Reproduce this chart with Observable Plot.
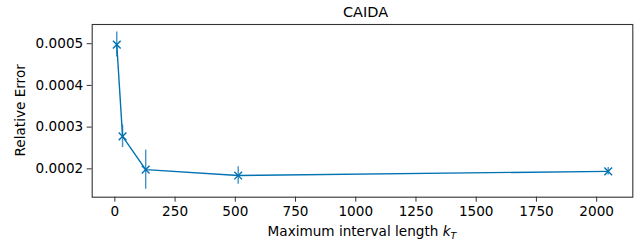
<!DOCTYPE html>
<html>
<head>
<meta charset="utf-8">
<script src="https://cdn.jsdelivr.net/npm/d3@7"></script>
<script src="https://cdn.jsdelivr.net/npm/@observablehq/plot@0.6"></script>
<style>
  html, body { margin: 0; padding: 0; background: #fff; }
  #chart svg { display: block; }
</style>
</head>
<body>
<div id="chart"></div>
<script>
const intervalLengths = [8, 32, 128, 512, 2048];
const relativeError = [0.000498, 0.000278, 0.000198, 0.000184, 0.000194];
const errorSpread = [0.000030, 0.000027, 0.000047, 0.000021, 0.000009];
const xTicks = [0, 250, 500, 750, 1000, 1250, 1500, 1750, 2000];
const yTicks = [0.0002, 0.0003, 0.0004, 0.0005];
const title = "CAIDA";

const data = intervalLengths.map((k, i) => ({
  k, err: relativeError[i], lo: relativeError[i] - errorSpread[i], hi: relativeError[i] + errorSpread[i]
}));

const W = 640, H = 246;
const mL = 91.7, mR = 7.7, mT = 24, mB = 49.3;
const color = "#0072b2";
const font = "DejaVu Sans, sans-serif";

const chart = Plot.plot({
  width: W,
  height: H,
  marginLeft: mL,
  marginRight: mR,
  marginTop: mT,
  marginBottom: mB,
  style: { fontFamily: font, fontSize: "13.6px", color: "#000", background: "#fff" },
  x: { domain: [-94, 2150], ticks: xTicks, tickFormat: d3.format("d"), label: null, tickSize: 5, tickPadding: 4 },
  y: { domain: [0.000132, 0.000546], ticks: yTicks, tickFormat: d3.format(".4f"), label: null, tickSize: 5, tickPadding: 4 },
  marks: [
    Plot.ruleX(data, { x: "k", y1: "lo", y2: "hi", stroke: color, strokeWidth: 1.4, strokeOpacity: 0.75 }),
    Plot.line(data, { x: "k", y: "err", stroke: color, strokeWidth: 1.4 }),
    Plot.dot(data, { x: "k", y: "err", symbol: "times", r: 3.6, stroke: color, strokeWidth: 1.4 }),
    Plot.frame({ stroke: "#333", strokeWidth: 1.1 }),
    Plot.text([title], { frameAnchor: "top", dy: -12, dx: 3, lineAnchor: "middle", fontSize: 14.5, fill: "#000" })
  ]
});

const svg = d3.select(chart);
svg.selectAll("[aria-label='x-axis tick'] path, [aria-label='y-axis tick'] path").attr("stroke", "#333");

// y axis label
svg.append("text")
  .attr("transform", `translate(21,${(mT + (H - mB)) / 2}) rotate(-90)`)
  .attr("text-anchor", "middle")
  .attr("dominant-baseline", "middle")
  .attr("font-family", font)
  .attr("font-size", "13.6px")
  .attr("fill", "#000")
  .text("Relative Error");

// x axis label with italic k and subscript T
const xl = svg.append("text")
  .attr("x", (mL + (W - mR)) / 2)
  .attr("y", 236)
  .attr("text-anchor", "middle")
  .attr("font-family", font)
  .attr("font-size", "13.6px")
  .attr("fill", "#000");
xl.append("tspan").text("Maximum interval length ");
xl.append("tspan").attr("font-style", "italic").text("k");
xl.append("tspan").attr("font-style", "italic").attr("font-size", "9.5px").attr("dy", 3).text("T");

document.getElementById("chart").appendChild(chart);
</script>
</body>
</html>
